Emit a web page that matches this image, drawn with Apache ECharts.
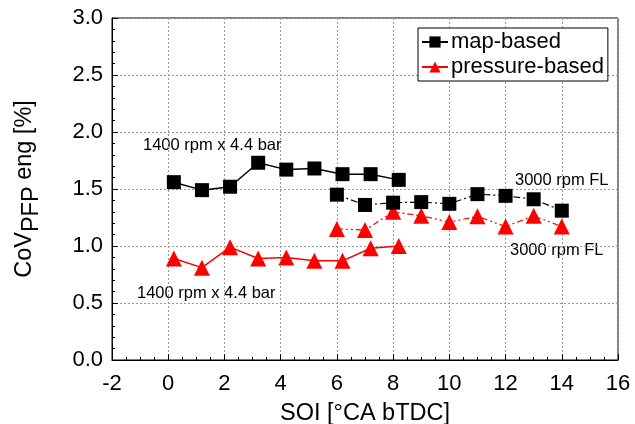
<!DOCTYPE html>
<html><head><meta charset="utf-8">
<script src="https://cdn.jsdelivr.net/npm/echarts@6/dist/echarts.min.js"></script>
<style>html,body{margin:0;padding:0;background:#fff}#c{width:635px;height:424px}</style>
</head><body><div id="c"></div>
<script>
// SOI values [°CA bTDC]
const soi1400 = [0.2, 1.2, 2.2, 3.2, 4.2, 5.2, 6.2, 7.2, 8.2];
const soi3000 = [6, 7, 8, 9, 10, 11, 12, 13, 14];
// CoV PFP eng [%]
const map1400 = [1.56, 1.49, 1.52, 1.73, 1.67, 1.68, 1.63, 1.63, 1.58];
const map3000 = [1.45, 1.36, 1.38, 1.385, 1.37, 1.455, 1.44, 1.41, 1.31];
const pres1400 = [0.89, 0.81, 0.99, 0.89, 0.90, 0.87, 0.87, 0.98, 1.00];
const pres3000 = [1.15, 1.14, 1.30, 1.265, 1.21, 1.26, 1.17, 1.265, 1.17];
const seriesNames = ['map-based', 'pressure-based'];

const zip = (xs, ys) => xs.map((x, i) => [x, ys[i]]);
const FONT = 'Liberation Sans, Arial, sans-serif';
const chart = echarts.init(document.getElementById('c'), null, {renderer: 'canvas'});

const axisCommon = {
  axisLine: {show: true, onZero: false, lineStyle: {color: '#000', width: 1}},
  axisTick: {show: true, inside: true, length: 6, lineStyle: {color: '#000'}},
  splitLine: {show: true, lineStyle: {color: '#999', type: [2, 2], width: 1}},
  axisLabel: {color: '#000', fontFamily: FONT, fontSize: 22}
};

chart.setOption({
  animation: false,
  backgroundColor: '#fff',
  grid: {left: 112, right: 17, top: 18, bottom: 64, show: true, borderColor: '#000', borderWidth: 1,
    containLabel: false, outerBoundsMode: 'none'},
  legend: {
    data: seriesNames,
    orient: 'vertical', left: 418, top: 28,
    backgroundColor: '#fff', borderColor: '#000', borderWidth: 1,
    padding: [3, 4, 3, 3], itemGap: 3, itemWidth: 26, itemHeight: 14,
    textStyle: {color: '#000', fontFamily: FONT, fontSize: 22, padding: [0, 0, 0, -2]}
  },
  xAxis: Object.assign({}, axisCommon, {
    type: 'value', min: -2, max: 16, interval: 2,
    minorTick: {show: true, splitNumber: 4, length: 3, lineStyle: {color: '#000'}},
    axisLabel: Object.assign({}, axisCommon.axisLabel, {margin: 13}),
    name: 'SOI [°CA bTDC]', nameLocation: 'middle', nameGap: 42,
    nameTextStyle: {color: '#000', fontFamily: FONT, fontSize: 23.5}
  }),
  yAxis: Object.assign({}, axisCommon, {
    type: 'value', min: 0, max: 3, interval: 0.5,
    minorTick: {show: true, splitNumber: 5, length: 3, lineStyle: {color: '#000'}},
    axisLabel: Object.assign({}, axisCommon.axisLabel, {margin: 9, formatter: v => v.toFixed(1)}),
    name: '{a|CoV}{b|PFP}{a| eng [%]}', nameLocation: 'middle', nameGap: 68, nameRotate: 90,
    nameTextStyle: {color: '#000', fontFamily: FONT, fontSize: 23.5,
      rich: {
        a: {fontFamily: FONT, fontSize: 23.5, color: '#000', lineHeight: 31, verticalAlign: 'top'},
        b: {fontFamily: FONT, fontSize: 23.5, color: '#000', lineHeight: 31, verticalAlign: 'bottom'}
      }}
  }),
  graphic: [
    {type: 'text', left: 143, top: 137, style: {text: '1400 rpm x 4.4 bar', fontFamily: FONT, fontSize: 16.5, fill: '#000'}},
    {type: 'text', left: 137, top: 285, style: {text: '1400 rpm x 4.4 bar', fontFamily: FONT, fontSize: 16.5, fill: '#000'}},
    {type: 'text', left: 515, top: 172, style: {text: '3000 rpm FL', fontFamily: FONT, fontSize: 16.5, fill: '#000'}},
    {type: 'text', left: 510, top: 242, style: {text: '3000 rpm FL', fontFamily: FONT, fontSize: 16.5, fill: '#000'}}
  ],
  series: [
    {name: seriesNames[0], type: 'line', data: zip(soi1400, map1400), symbol: 'rect', symbolSize: 14,
      itemStyle: {color: '#000'}, lineStyle: {color: '#000', width: 1.5}, z: 3},
    {name: seriesNames[0], type: 'line', data: zip(soi3000, map3000), symbol: 'rect', symbolSize: 14,
      itemStyle: {color: '#000'}, lineStyle: {color: '#000', width: 1.2, type: [7, 3, 2, 3]}, z: 3},
    {name: seriesNames[1], type: 'line', data: zip(soi1400, pres1400), symbol: 'triangle', symbolSize: 16,
      itemStyle: {color: '#ff0000'}, lineStyle: {color: '#ff0000', width: 1.5}, z: 2},
    {name: seriesNames[1], type: 'line', data: zip(soi3000, pres3000), symbol: 'triangle', symbolSize: 16,
      itemStyle: {color: '#ff0000'}, lineStyle: {color: '#ff0000', width: 1.2, type: [6, 3, 2, 3, 2, 3]}, z: 2}
  ]
});
</script></body></html>
